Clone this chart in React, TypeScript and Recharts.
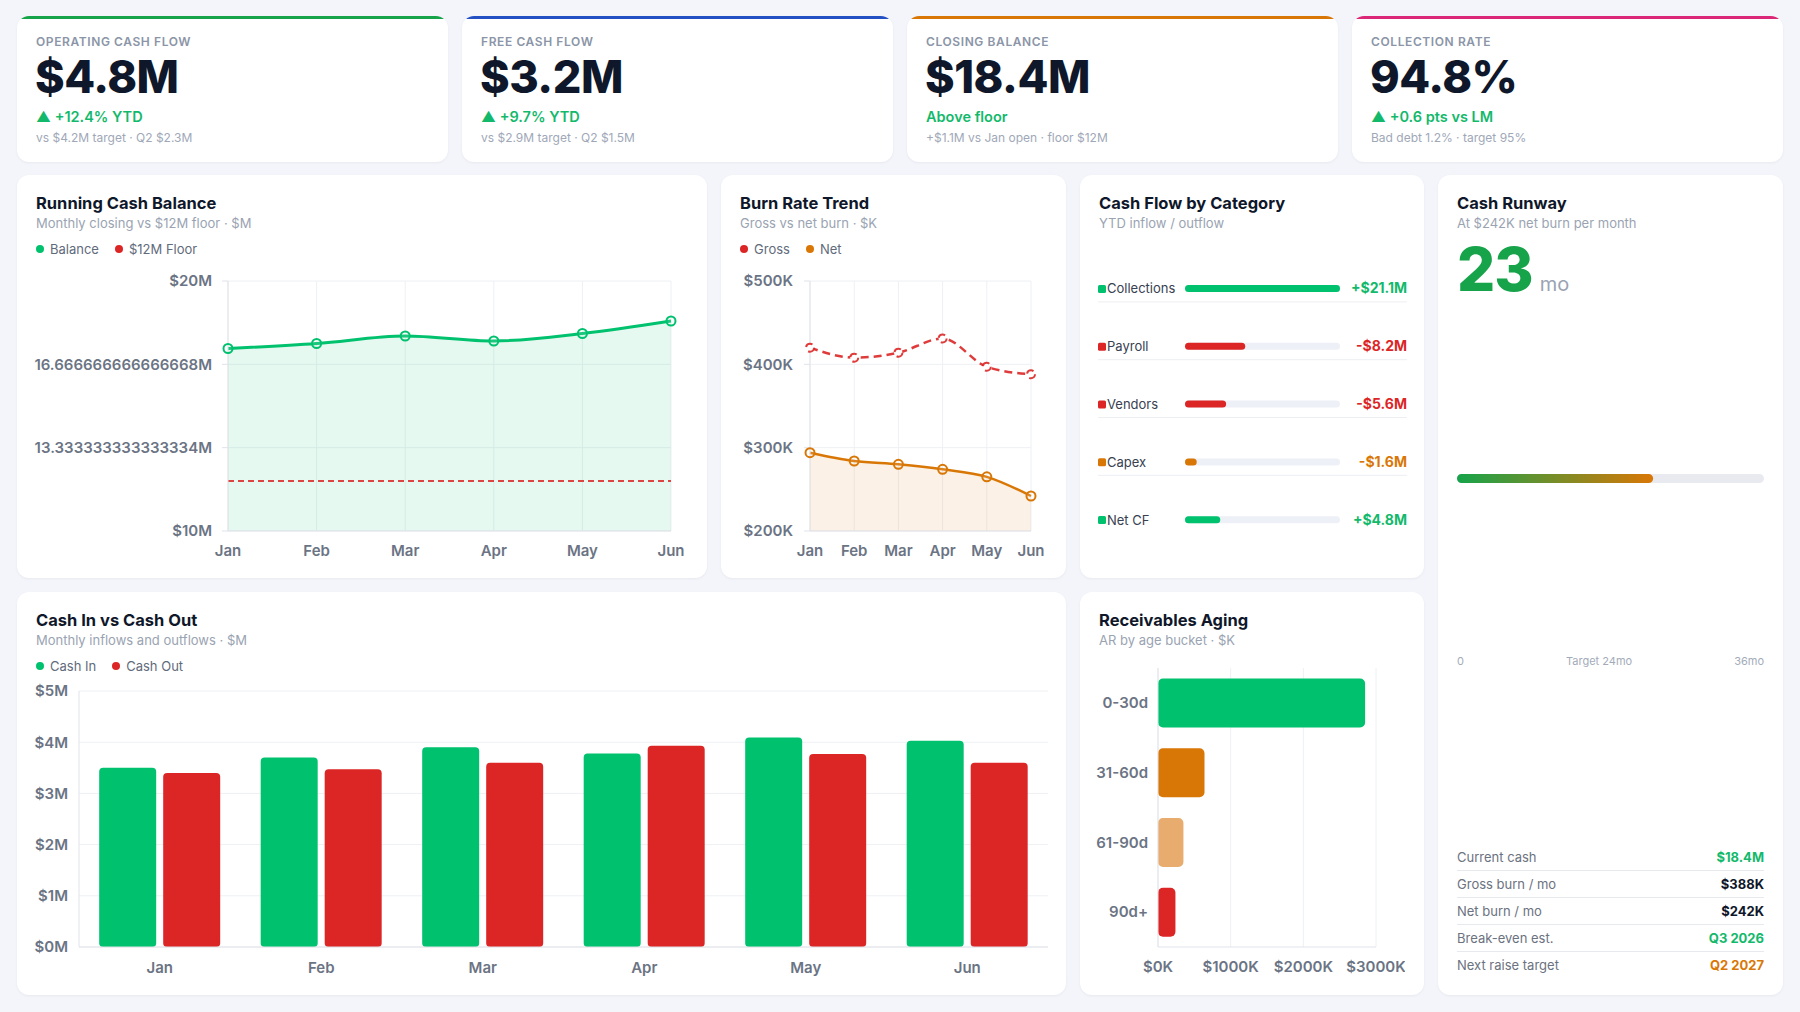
import React from "react";
import {
  Area,
  Bar,
  BarChart,
  CartesianGrid,
  Cell,
  ComposedChart,
  LabelList,
  Line,
  XAxis,
  YAxis,
} from "recharts";

const GREEN = "#00c16e";
const GREEN_TEXT = "#13b96b";
const GREEN_DARK = "#16a34a";
const RED = "#dc2626";
const ORANGE = "#d97706";
const ORANGE_LIGHT = "#e8ad6e";
const INK = "#0f172a";
const MUTED = "#9aa3b2";
const AXIS_TEXT = "#6b7484";
const GRID = "#eef0f4";
const AXIS_LINE = "#dfe3e9";

// KPI strip
const kpiLabels = ["OPERATING CASH FLOW", "FREE CASH FLOW", "CLOSING BALANCE", "COLLECTION RATE"];
const kpiValues = ["$4.8M", "$3.2M", "$18.4M", "94.8%"];
const kpiDeltas = ["▲ +12.4% YTD", "▲ +9.7% YTD", "Above floor", "▲ +0.6 pts vs LM"];
const kpiNotes = [
  "vs $4.2M target · Q2 $2.3M",
  "vs $2.9M target · Q2 $1.5M",
  "+$1.1M vs Jan open · floor $12M",
  "Bad debt 1.2% · target 95%",
];
const kpiAccents = ["#16a34a", "#2351c4", "#d97706", "#db2777"];

const months = ["Jan", "Feb", "Mar", "Apr", "May", "Jun"];

// running balance, $M
const closingBalance = [17.3, 17.5, 17.8, 17.6, 17.9, 18.4];
const cashFloor = 12;
const balanceTicks = [10, 13.333333333333334, 16.666666666666668, 20];

// burn, $K
const grossBurn = [420, 408, 414, 431, 397, 388];
const netBurn = [294, 284, 280, 274, 265, 242];
const burnTicks = [200, 300, 400, 500];

// monthly flows, $M
const cashIn = [3.5, 3.7, 3.9, 3.78, 4.09, 4.03];
const cashOut = [3.4, 3.47, 3.6, 3.93, 3.77, 3.6];
const cashTicks = [0, 1, 2, 3, 4, 5];

// YTD by category, $M
const flowCategories = ["Collections", "Payroll", "Vendors", "Capex", "Net CF"];
const flowValues = [21.1, 8.2, 5.6, 1.6, 4.8];
const flowSigns = ["+", "-", "-", "-", "+"];
const flowColors = [GREEN, RED, RED, ORANGE, GREEN];
const flowTextColors = [GREEN_TEXT, RED, RED, ORANGE, GREEN_TEXT];

// AR aging, $K
const agingBuckets = ["0-30d", "31-60d", "61-90d", "90d+"];
const agingValues = [2850, 640, 350, 240];
const agingColors = [GREEN, ORANGE, ORANGE_LIGHT, RED];
const agingTicks = [0, 1000, 2000, 3000];

// runway
const runwayMonths = 23;
const runwayMax = 36;
const runwayScale = ["0", "Target 24mo", "36mo"];
const runwayStatLabels = ["Current cash", "Gross burn / mo", "Net burn / mo", "Break-even est.", "Next raise target"];
const runwayStatValues = ["$18.4M", "$388K", "$242K", "Q3 2026", "Q2 2027"];
const runwayStatColors = [GREEN_TEXT, INK, INK, GREEN_TEXT, ORANGE];

const balanceData = months.map((month, i) => ({ month, balance: closingBalance[i], floor: cashFloor }));
const burnData = months.map((month, i) => ({ month, gross: grossBurn[i], net: netBurn[i] }));
const cashData = months.map((month, i) => ({ month, cashIn: cashIn[i], cashOut: cashOut[i] }));
const flowData = flowCategories.map((name, i) => ({
  name,
  value: flowValues[i],
  color: flowColors[i],
  textColor: flowTextColors[i],
  label: `${flowSigns[i]}$${flowValues[i]}M`,
}));
const flowMax = Math.max(...flowValues);
const agingData = agingBuckets.map((bucket, i) => ({ bucket, value: agingValues[i] }));
const runwayData = [{ name: "runway", months: runwayMonths }];

const tickStyle = { fill: AXIS_TEXT, fontSize: 15, fontWeight: 600 };

const fmtBalance = (v: number) => (Number.isInteger(v) ? `$${v}M` : `${v}M`);

function Card({ x, y, w, h, accent, children }: any) {
  return (
    <div
      style={{
        position: "absolute",
        left: x,
        top: y,
        width: w,
        height: h,
        background: "#fff",
        borderRadius: 12,
        boxShadow: "0 1px 3px rgba(15,23,42,0.05)",
        overflow: "hidden",
      }}
    >
      {accent && <div style={{ position: "absolute", left: 0, right: 0, top: 0, height: 3, background: accent }} />}
      {children}
    </div>
  );
}

function Header({ title, subtitle, legend }: { title: string; subtitle: string; legend?: [string, string][] }) {
  return (
    <>
      <div style={{ position: "absolute", left: 19, top: 18, fontSize: 16.5, lineHeight: "20px", fontWeight: 700, color: INK }}>
        {title}
      </div>
      <div style={{ position: "absolute", left: 19, top: 40, fontSize: 13, lineHeight: "16px", color: MUTED }}>{subtitle}</div>
      {legend && (
        <div
          style={{
            position: "absolute",
            left: 19,
            top: 66,
            display: "flex",
            gap: 16,
            fontSize: 13,
            lineHeight: "16px",
            color: "#5f6b7c",
          }}
        >
          {legend.map(([label, color]) => (
            <div key={label} style={{ display: "flex", alignItems: "center", gap: 6 }}>
              <span style={{ width: 8, height: 8, borderRadius: 4, background: color }} />
              {label}
            </div>
          ))}
        </div>
      )}
    </>
  );
}

function KpiCard({ i, x }: { i: number; x: number }) {
  return (
    <Card x={x} y={16} w={431} h={146} accent={kpiAccents[i]}>
      <div
        style={{
          position: "absolute",
          left: 19,
          top: 19,
          fontSize: 12,
          lineHeight: "14px",
          fontWeight: 600,
          letterSpacing: 0.6,
          color: "#8b95a7",
        }}
      >
        {kpiLabels[i]}
      </div>
      <div
        style={{
          position: "absolute",
          left: 18,
          top: 38,
          fontSize: 45,
          lineHeight: "45px",
          fontWeight: 800,
          letterSpacing: -0.5,
          color: INK,
        }}
      >
        {kpiValues[i]}
      </div>
      <div
        style={{
          position: "absolute",
          left: 19,
          top: 92,
          fontSize: 14.5,
          lineHeight: "18px",
          fontWeight: 600,
          color: GREEN_TEXT,
        }}
      >
        {kpiDeltas[i]}
      </div>
      <div style={{ position: "absolute", left: 19, top: 115, fontSize: 12, lineHeight: "14px", color: "#a0a8b8" }}>
        {kpiNotes[i]}
      </div>
    </Card>
  );
}

function FlowTick(props: any) {
  const { y, payload } = props;
  const idx = flowData.findIndex((d) => d.name === payload.value);
  const d = flowData[idx];
  return (
    <g>
      <rect x={0} y={y - 4} width={8} height={8} rx={1.5} fill={d.color} />
      <text x={9} y={y} dy="0.35em" fill="#374151" fontSize={13}>
        {d.name}
      </text>
      {idx < flowData.length - 1 && <line x1={0} x2={309} y1={y + 13} y2={y + 13} stroke="#eceef2" strokeWidth={1} />}
    </g>
  );
}

function FlowValue(props: any) {
  const vb = props.viewBox || {};
  const y = (vb.y ?? props.y) + (vb.height ?? props.height) / 2;
  const d = flowData[props.index] || flowData.find((f) => f.label === props.value);
  return (
    <text x={309} y={y} dy="0.35em" textAnchor="end" fill={d ? d.textColor : INK} fontSize={14} fontWeight={700}>
      {props.value}
    </text>
  );
}

export default function App() {
  return (
    <div
      style={{
        position: "fixed",
        left: 0,
        top: 0,
        width: 1800,
        height: 1012,
        background: "#f3f5fa",
        fontFamily: "Inter, 'Noto Sans', sans-serif",
        overflow: "hidden",
      }}
    >
      {[17, 462, 907, 1352].map((x, i) => (
        <KpiCard key={i} i={i} x={x} />
      ))}

      {/* Running cash balance */}
      <Card x={17} y={175} w={690} h={403}>
        <Header
          title="Running Cash Balance"
          subtitle="Monthly closing vs $12M floor · $M"
          legend={[
            ["Balance", GREEN],
            ["$12M Floor", RED],
          ]}
        />
        <div style={{ position: "absolute", left: 9, top: 96 }}>
          <ComposedChart width={661} height={290} data={balanceData} margin={{ top: 10, right: 16, bottom: 0, left: 0 }}>
            <CartesianGrid stroke={GRID} />
            <XAxis
              dataKey="month"
              scale="point"
              tick={tickStyle}
              tickLine={false}
              axisLine={{ stroke: AXIS_LINE }}
              tickMargin={8}
              height={30}
            />
            <YAxis
              domain={[10, 20]}
              ticks={balanceTicks}
              tickFormatter={fmtBalance}
              tick={tickStyle}
              width={202}
              tickLine={{ stroke: AXIS_LINE }}
              axisLine={{ stroke: AXIS_LINE }}
              tickMargin={10}
            />
            <Area
              type="monotone"
              dataKey="balance"
              stroke={GREEN}
              strokeWidth={3}
              fill={GREEN}
              fillOpacity={0.1}
              dot={{ r: 4.5, fill: "#fff", stroke: GREEN, strokeWidth: 2 }}
              activeDot={false}
              isAnimationActive={false}
            />
            <Line
              dataKey="floor"
              stroke={RED}
              strokeOpacity={0.85}
              strokeWidth={2}
              strokeDasharray="6 4"
              dot={false}
              activeDot={false}
              isAnimationActive={false}
            />
          </ComposedChart>
        </div>
      </Card>

      {/* Burn rate */}
      <Card x={721} y={175} w={345} h={403}>
        <Header
          title="Burn Rate Trend"
          subtitle="Gross vs net burn · $K"
          legend={[
            ["Gross", RED],
            ["Net", ORANGE],
          ]}
        />
        <div style={{ position: "absolute", left: 9, top: 96 }}>
          <ComposedChart width={317} height={290} data={burnData} margin={{ top: 10, right: 16, bottom: 0, left: 0 }}>
            <CartesianGrid stroke={GRID} />
            <XAxis
              dataKey="month"
              scale="point"
              tick={tickStyle}
              tickLine={false}
              axisLine={{ stroke: AXIS_LINE }}
              tickMargin={8}
              height={30}
            />
            <YAxis
              domain={[200, 500]}
              ticks={burnTicks}
              tickFormatter={(v: number) => `$${v}K`}
              tick={tickStyle}
              width={80}
              tickLine={{ stroke: AXIS_LINE }}
              axisLine={{ stroke: AXIS_LINE }}
              tickMargin={11}
            />
            <Area
              type="monotone"
              dataKey="net"
              stroke={ORANGE}
              strokeWidth={2.5}
              fill={ORANGE}
              fillOpacity={0.1}
              dot={{ r: 4.5, fill: "#fff", stroke: ORANGE, strokeWidth: 2 }}
              activeDot={false}
              isAnimationActive={false}
            />
            <Line
              type="monotone"
              dataKey="gross"
              stroke={RED}
              strokeOpacity={0.9}
              strokeWidth={2.5}
              strokeDasharray="8 5"
              dot={{ r: 4, fill: "#fff", stroke: RED, strokeWidth: 2 }}
              activeDot={false}
              isAnimationActive={false}
            />
          </ComposedChart>
        </div>
      </Card>

      {/* Cash flow by category */}
      <Card x={1080} y={175} w={344} h={403}>
        <Header title="Cash Flow by Category" subtitle="YTD inflow / outflow" />
        <div style={{ position: "absolute", left: 18, top: 85 }}>
          <BarChart layout="vertical" width={309} height={289} data={flowData} margin={{ top: 0, right: 67, bottom: 0, left: 0 }}>
            <XAxis type="number" domain={[0, flowMax]} hide />
            <YAxis type="category" dataKey="name" width={87} axisLine={false} tickLine={false} tick={(p: any) => <FlowTick {...p} />} />
            <Bar
              dataKey="value"
              barSize={7}
              radius={3.5}
              background={{ fill: "#eef0f7", radius: 3.5 }}
              isAnimationActive={false}
            >
              {flowData.map((d, i) => (
                <Cell key={i} fill={d.color} />
              ))}
              <LabelList dataKey="label" content={(p: any) => <FlowValue {...p} />} />
            </Bar>
          </BarChart>
        </div>
      </Card>

      {/* Runway */}
      <Card x={1438} y={175} w={345} h={820}>
        <Header title="Cash Runway" subtitle="At $242K net burn per month" />
        <div style={{ position: "absolute", left: 19, top: 64, display: "flex", alignItems: "baseline" }}>
          <span style={{ fontSize: 60, lineHeight: "60px", fontWeight: 800, color: GREEN_DARK, letterSpacing: -1 }}>
            {runwayMonths}
          </span>
          <span style={{ fontSize: 20, color: MUTED, marginLeft: 7 }}>mo</span>
        </div>
        <div style={{ position: "absolute", left: 19, top: 293 }}>
          <BarChart layout="vertical" width={307} height={20} data={runwayData} margin={{ top: 0, right: 0, bottom: 0, left: 0 }}>
            <defs>
              <linearGradient id="runwayFill" x1="0" y1="0" x2="1" y2="0">
                <stop offset="0%" stopColor="#16a34a" />
                <stop offset="100%" stopColor="#d97706" />
              </linearGradient>
            </defs>
            <XAxis type="number" domain={[0, runwayMax]} hide />
            <YAxis type="category" dataKey="name" hide />
            <Bar
              dataKey="months"
              barSize={9}
              radius={4.5}
              fill="url(#runwayFill)"
              background={{ fill: "#e8eaf0", radius: 4.5 }}
              isAnimationActive={false}
            />
          </BarChart>
        </div>
        <div
          style={{
            position: "absolute",
            left: 19,
            top: 479,
            width: 307,
            display: "flex",
            justifyContent: "space-between",
            fontSize: 11,
            lineHeight: "14px",
            color: "#a3abb9",
          }}
        >
          {runwayScale.map((s) => (
            <span key={s}>{s}</span>
          ))}
        </div>
        <div style={{ position: "absolute", left: 19, top: 669, width: 307 }}>
          {runwayStatLabels.map((label, i) => (
            <div
              key={label}
              style={{
                height: 26,
                display: "flex",
                alignItems: "center",
                justifyContent: "space-between",
                borderBottom: i < runwayStatLabels.length - 1 ? "1px solid #e7e9ee" : "none",
                fontSize: 13,
              }}
            >
              <span style={{ color: "#6b7280" }}>{label}</span>
              <span style={{ color: runwayStatColors[i], fontWeight: 700 }}>{runwayStatValues[i]}</span>
            </div>
          ))}
        </div>
      </Card>

      {/* Cash in vs cash out */}
      <Card x={17} y={592} w={1049} h={403}>
        <Header
          title="Cash In vs Cash Out"
          subtitle="Monthly inflows and outflows · $M"
          legend={[
            ["Cash In", GREEN],
            ["Cash Out", RED],
          ]}
        />
        <div style={{ position: "absolute", left: 9, top: 89 }}>
          <BarChart
            width={1022}
            height={296}
            data={cashData}
            margin={{ top: 10, right: 0, bottom: 0, left: 0 }}
            barGap={7}
            barCategoryGap="12.5%"
          >
            <CartesianGrid stroke={GRID} vertical={false} />
            <XAxis dataKey="month" tick={tickStyle} tickLine={false} axisLine={{ stroke: AXIS_LINE }} tickMargin={9} height={30} />
            <YAxis
              domain={[0, 5]}
              ticks={cashTicks}
              tickFormatter={(v: number) => `$${v}M`}
              tick={tickStyle}
              width={53}
              tickLine={false}
              axisLine={{ stroke: AXIS_LINE }}
              tickMargin={5}
            />
            <Bar dataKey="cashIn" fill={GREEN} radius={4} isAnimationActive={false} />
            <Bar dataKey="cashOut" fill={RED} radius={4} isAnimationActive={false} />
          </BarChart>
        </div>
      </Card>

      {/* Receivables aging */}
      <Card x={1080} y={592} w={344} h={403}>
        <Header title="Receivables Aging" subtitle="AR by age bucket · $K" />
        <div style={{ position: "absolute", left: 8, top: 76 }}>
          <BarChart
            layout="vertical"
            width={317}
            height={309}
            data={agingData}
            margin={{ top: 0, right: 29, bottom: 0, left: 0 }}
            barCategoryGap="15%"
          >
            <CartesianGrid stroke={GRID} horizontal={false} />
            <XAxis
              type="number"
              domain={[0, 3000]}
              ticks={agingTicks}
              tickFormatter={(v: number) => `$${v}K`}
              tick={tickStyle}
              tickLine={false}
              axisLine={{ stroke: AXIS_LINE }}
              tickMargin={8}
              height={30}
            />
            <YAxis
              type="category"
              dataKey="bucket"
              width={70}
              tick={tickStyle}
              tickLine={false}
              axisLine={{ stroke: AXIS_LINE }}
              tickMargin={4}
            />
            <Bar dataKey="value" radius={5} isAnimationActive={false}>
              {agingColors.map((c, i) => (
                <Cell key={i} fill={c} />
              ))}
            </Bar>
          </BarChart>
        </div>
      </Card>
    </div>
  );
}
